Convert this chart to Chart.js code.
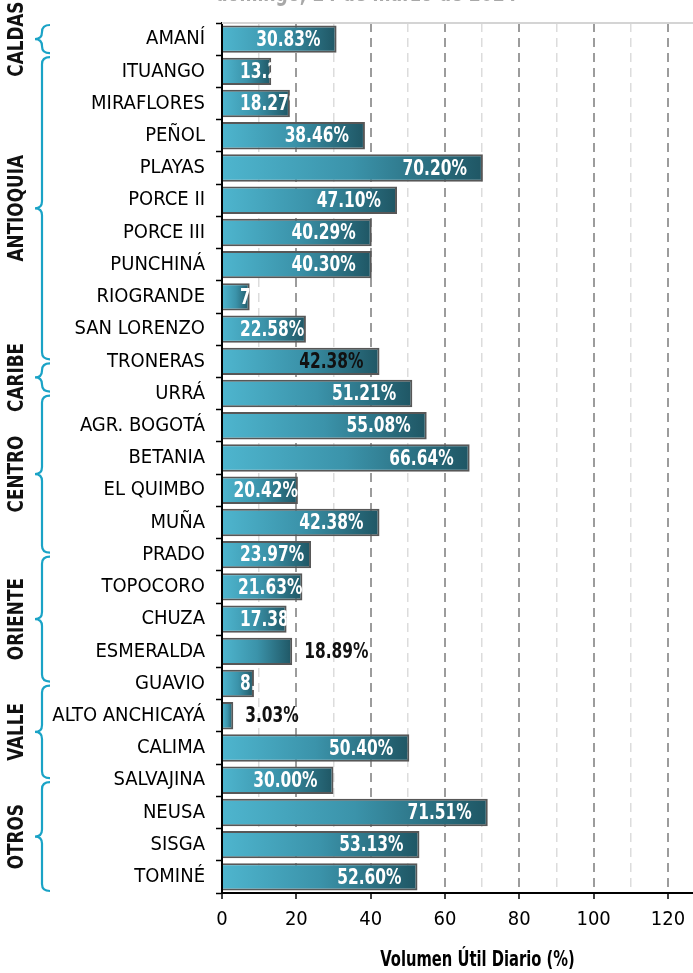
<!DOCTYPE html>
<html>
<head>
<meta charset="utf-8">
<title>Volumen útil diario de los embalses</title>
<script src="https://cdn.jsdelivr.net/npm/chart.js@4.4.1/dist/chart.umd.min.js"></script>
<style>
  html, body { margin: 0; padding: 0; background: #fff; overflow: hidden; }
  .chart-box { position: absolute; left: 0; top: 0; width: 733px; height: 973px; }
</style>
</head>
<body>
<div class="chart-box"><canvas id="myChart"></canvas></div>
<script>
const embalses = [
  'AMANÍ', 'ITUANGO', 'MIRAFLORES', 'PEÑOL', 'PLAYAS', 'PORCE II', 'PORCE III',
  'PUNCHINÁ', 'RIOGRANDE', 'SAN LORENZO', 'TRONERAS', 'URRÁ', 'AGR. BOGOTÁ',
  'BETANIA', 'EL QUIMBO', 'MUÑA', 'PRADO', 'TOPOCORO', 'CHUZA', 'ESMERALDA',
  'GUAVIO', 'ALTO ANCHICAYÁ', 'CALIMA', 'SALVAJINA', 'NEUSA', 'SISGA', 'TOMINÉ'
];
const volumen = [
  30.83, 13.25, 18.27, 38.46, 70.20, 47.10, 40.29,
  40.30, 7.45, 22.58, 42.38, 51.21, 55.08,
  66.64, 20.42, 42.38, 23.97, 21.63, 17.38, 18.89,
  8.60, 3.03, 50.40, 30.00, 71.51, 53.13, 52.60
];
const regiones = ['CALDAS', 'ANTIOQUIA', 'CARIBE', 'CENTRO', 'ORIENTE', 'VALLE', 'OTROS'];
const embalsesPorRegion = [1, 10, 1, 5, 4, 3, 3];
const xTicks = [0, 20, 40, 60, 80, 100, 120];
const subtitulo = 'domingo, 24 de marzo de 2024';
const tituloX = 'Volumen Útil Diario (%)';

// labels drawn outside the bar / in black, as in the reference
const etiquetaAfuera = ['ESMERALDA', 'ALTO ANCHICAYÁ'];
const etiquetaOscura = ['TRONERAS'];

const cond = "'DejaVu Sans Condensed', 'DejaVu Sans', sans-serif";

// no narrow font here, so squeeze the hand drawn texts a bit
const drawSqueezed = (ctx, txt, x, y, sx) => {
  ctx.save();
  ctx.translate(x, y);
  ctx.scale(sx, 1);
  ctx.fillText(txt, 0, 0);
  ctx.restore();
};

const barFill = (c) => {
  const chart = c.chart;
  const x = chart.scales.x;
  if (!chart.chartArea || !x || c.type !== 'data') return '#3b95ab';
  const x0 = x.getPixelForValue(0);
  const x1 = x.getPixelForValue(c.raw);
  if (!isFinite(x0) || !isFinite(x1) || x1 - x0 < 1) return '#3b95ab';
  const g = chart.ctx.createLinearGradient(x0, 0, x1, 0);
  g.addColorStop(0, '#4eb5ce');
  g.addColorStop(0.5, '#3b93aa');
  g.addColorStop(1, '#1f5664');
  return g;
};

const valueLabels = {
  id: 'valueLabels',
  afterDatasetsDraw(chart) {
    const ctx = chart.ctx;
    const meta = chart.getDatasetMeta(0);
    const sx = 0.78;
    ctx.save();
    ctx.font = 'bold 22px ' + cond;
    ctx.textBaseline = 'middle';
    ctx.textAlign = 'left';
    meta.data.forEach((bar, i) => {
      const txt = volumen[i].toFixed(2) + '%';
      const w = ctx.measureText(txt).width * sx;
      const end = bar.x, base = bar.base, len = end - base;
      const y = bar.y + 1;
      if (etiquetaAfuera.includes(embalses[i])) {
        ctx.fillStyle = '#111';
        drawSqueezed(ctx, txt, end + 12, y, sx);
        return;
      }
      ctx.fillStyle = etiquetaOscura.includes(embalses[i]) ? '#111' : '#fff';
      let x, clip = false;
      if (w + 33 <= len) x = end - 16 - w;
      else if (w + 17 <= len) x = base + 17;
      else if (w <= len - 4) x = end - w;
      else { x = base + 17; clip = true; }
      ctx.save();
      if (clip) {
        ctx.beginPath();
        ctx.rect(base, bar.y - bar.height / 2, len, bar.height);
        ctx.clip();
      }
      drawSqueezed(ctx, txt, x, y, sx);
      ctx.restore();
    });
    ctx.restore();
  }
};

const marco = {
  id: 'marco',
  beforeDatasetsDraw(chart) {
    const {ctx, chartArea} = chart;
    ctx.save();
    ctx.strokeStyle = '#d4d4d4';
    ctx.lineWidth = 2;
    ctx.beginPath();
    ctx.moveTo(chartArea.left, chartArea.top);
    ctx.lineTo(chartArea.right, chartArea.top);
    ctx.stroke();
    ctx.restore();
  },
  afterDraw(chart) {
    const {ctx, scales: {x}} = chart;
    ctx.save();
    // subtitle, cut off by the top edge like in the reference
    ctx.font = 'bold 24px ' + cond;
    ctx.fillStyle = '#a8a8a8';
    ctx.textAlign = 'center';
    ctx.textBaseline = 'alphabetic';
    drawSqueezed(ctx, subtitulo, 366, 0.5, 0.8);
    // x axis title
    ctx.font = 'bold 21px ' + cond;
    ctx.fillStyle = '#000';
    ctx.textBaseline = 'middle';
    drawSqueezed(ctx, tituloX, (x.left + x.right) / 2, 961, 0.78);
    ctx.restore();
  }
};

const llaves = {
  id: 'llaves',
  afterDraw(chart) {
    const {ctx, scales: {y}} = chart;
    const row = y.getPixelForValue(1) - y.getPixelForValue(0);
    const top = y.getPixelForValue(0) - row / 2;
    const bounds = [0];
    let acc = 0;
    embalsesPorRegion.forEach(n => { acc += n; bounds.push(acc); });
    // below ANTIOQUIA the reference draws every bracket half a row higher
    const edge = k => (k <= 1 || k === bounds.length - 1) ? bounds[k] : bounds[k] - 0.5;
    const xe = 50, xs = 42, xt = 35;
    ctx.save();
    regiones.forEach((name, k) => {
      const y0 = top + edge(k) * row + 2;
      const y1 = top + edge(k + 1) * row - 2;
      const mid = (y0 + y1) / 2;
      const r = Math.min(7, (y1 - y0) / 4);
      ctx.strokeStyle = '#1aa3c6';
      ctx.lineWidth = 2.2;
      ctx.beginPath();
      ctx.moveTo(xe, y0);
      ctx.quadraticCurveTo(xs, y0, xs, y0 + r);
      ctx.lineTo(xs, mid - r);
      ctx.quadraticCurveTo(xs, mid, xt, mid);
      ctx.quadraticCurveTo(xs, mid, xs, mid + r);
      ctx.lineTo(xs, y1 - r);
      ctx.quadraticCurveTo(xs, y1, xe, y1);
      ctx.stroke();

      ctx.save();
      ctx.translate(17, mid);
      ctx.rotate(-Math.PI / 2);
      ctx.font = 'bold 22px ' + cond;
      ctx.fillStyle = '#111';
      ctx.textAlign = 'center';
      ctx.textBaseline = 'middle';
      drawSqueezed(ctx, name, 0, 0, 0.85);
      ctx.restore();
    });
    ctx.restore();
  }
};

const config = {
  type: 'bar',
  data: {
    labels: embalses,
    datasets: [{
      data: volumen,
      backgroundColor: barFill,
      borderColor: '#575757',
      borderWidth: 2,
      categoryPercentage: 1,
      barPercentage: 0.85
    }]
  },
  options: {
    indexAxis: 'y',
    responsive: true,
    maintainAspectRatio: false,
    animation: false,
    devicePixelRatio: 1,
    events: [],
    layout: { padding: { top: 23, right: 0, bottom: 0, left: 0 } },
    plugins: {
      legend: { display: false },
      tooltip: { enabled: false }
    },
    scales: {
      x: {
        type: 'linear',
        min: 0,
        max: 137.5,
        afterBuildTicks: s => { s.ticks = s.ticks.filter(t => t.value % 10 === 0); },
        afterFit: s => { s.height = 80; },
        ticks: {
          stepSize: 10,
          autoSkip: false,
          maxRotation: 0,
          padding: 9,
          color: '#000',
          font: { family: cond, size: 20 },
          callback: v => xTicks.includes(v) ? String(v) : ''
        },
        grid: {
          color: c => {
            if (!c.tick || c.tick.value === 0) return 'rgba(0,0,0,0)';
            return c.tick.value % 20 === 0 ? '#9c9c9c' : '#dcdcdc';
          },
          lineWidth: c => (c.tick && c.tick.value % 20 === 0) ? 2 : 1.5,
          tickLength: 6,
          tickWidth: 1.5,
          tickColor: c => (c.tick && xTicks.includes(c.tick.value)) ? '#000' : 'rgba(0,0,0,0)'
        },
        border: { display: true, color: '#000', width: 2, dash: [9, 6] }
      },
      y: {
        afterFit: s => { s.width = 222; },
        ticks: {
          autoSkip: false,
          color: '#000',
          padding: 11,
          font: { family: cond, size: 20 }
        },
        grid: {
          offset: true,
          drawOnChartArea: false,
          tickLength: 6,
          tickWidth: 1.5,
          tickColor: '#000'
        },
        border: { color: '#000', width: 2 }
      }
    }
  },
  plugins: [marco, valueLabels, llaves]
};

const myChart = new Chart(document.getElementById('myChart'), config);
</script>
</body>
</html>
